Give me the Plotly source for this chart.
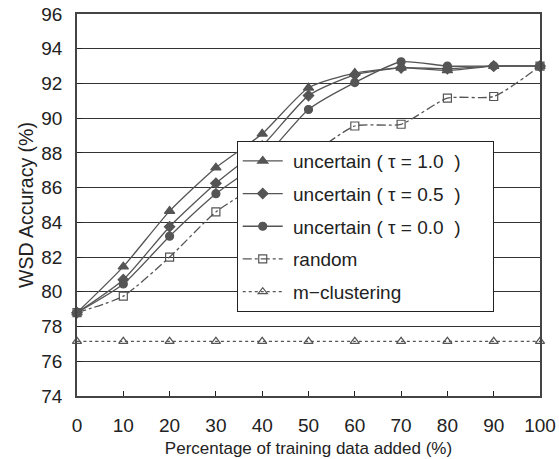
import plotly.graph_objects as go

x = [0, 10, 20, 30, 40, 50, 60, 70, 80, 90, 100]
tau10 = [78.8, 81.45, 84.65, 87.15, 89.1, 91.75, 92.6, 92.9, 92.75, 93.0, 93.0]
tau05 = [78.8, 80.7, 83.75, 86.25, 88.4, 91.3, 92.5, 92.9, 92.85, 93.0, 93.0]
tau00 = [78.8, 80.45, 83.2, 85.65, 87.6, 90.5, 92.05, 93.25, 93.0, 93.0, 93.0]
rand = [78.8, 79.75, 82.0, 84.6, 86.3, 87.8, 89.55, 89.65, 91.15, 91.25, 93.0]
mclus = [77.15] * 11

sp = "\u00a0"
names = [sp + "uncertain" + sp + "( τ = 1.0" + sp * 2 + ")" + sp * 5,
         sp + "uncertain" + sp + "( τ = 0.5" + sp * 2 + ")",
         sp + "uncertain" + sp + "( τ = 0.0" + sp * 2 + ")",
         sp + "random", sp + "m−clustering"]

col = "#555555"
font = "Liberation Sans, Arial, sans-serif"

fig = go.Figure()
specs = [
    (tau10, "triangle-up", "solid", 9),
    (tau05, "diamond", "solid", 8),
    (tau00, "circle", "solid", 8),
    (rand, "square-open", "dashdot", 8),
    (mclus, "triangle-up-open", "dot", 8),
]
for i, (ys, sym, dash, sz) in enumerate(specs):
    fig.add_trace(go.Scatter(
        x=x, y=ys, name=names[i], mode="lines+markers",
        line=dict(color=col, width=1.3, dash=dash, shape="spline", smoothing=0.6),
        marker=dict(symbol=sym, size=sz, color=col, line=dict(color=col, width=1.2)),
        cliponaxis=False, legendgroup=f"g{i}",
    ))

fig.update_layout(
    width=559, height=459,
    margin=dict(l=77, r=19, t=14, b=63, autoexpand=False),
    paper_bgcolor="white", plot_bgcolor="white",
    font=dict(family=font, size=18, color="#222222"),
    showlegend=True,
    legend=dict(x=0.345, y=0.6675, xanchor="left", yanchor="top",
                bgcolor="white", bordercolor="#222222", borderwidth=1,
                font=dict(size=19, family=font, color="#222222"),
                traceorder="grouped", tracegroupgap=5,
                itemwidth=40),
    xaxis=dict(range=[0, 100], tickvals=x, ticks="inside", ticklen=5,
               tickcolor="#222222", showline=True, linecolor="#444444", linewidth=1.5,
               mirror=True, showgrid=False, zeroline=False, automargin=False,
               tickfont=dict(size=19), ticklabelstandoff=11,
               title=dict(text="Percentage of training data added (%)", font=dict(size=17), standoff=8)),
    yaxis=dict(range=[74, 96], dtick=2, tick0=74, ticks="inside", ticklen=5,
               tickcolor="#222222", showline=True, linecolor="#444444", linewidth=1.5,
               mirror=True, showgrid=True, gridcolor="#333333", gridwidth=1,
               zeroline=False, automargin=False, tickfont=dict(size=19), ticklabelstandoff=9,
               title=dict(text="WSD Accuracy (%)", font=dict(size=19.5), standoff=2)),
)

fig.write_html("out.html")
